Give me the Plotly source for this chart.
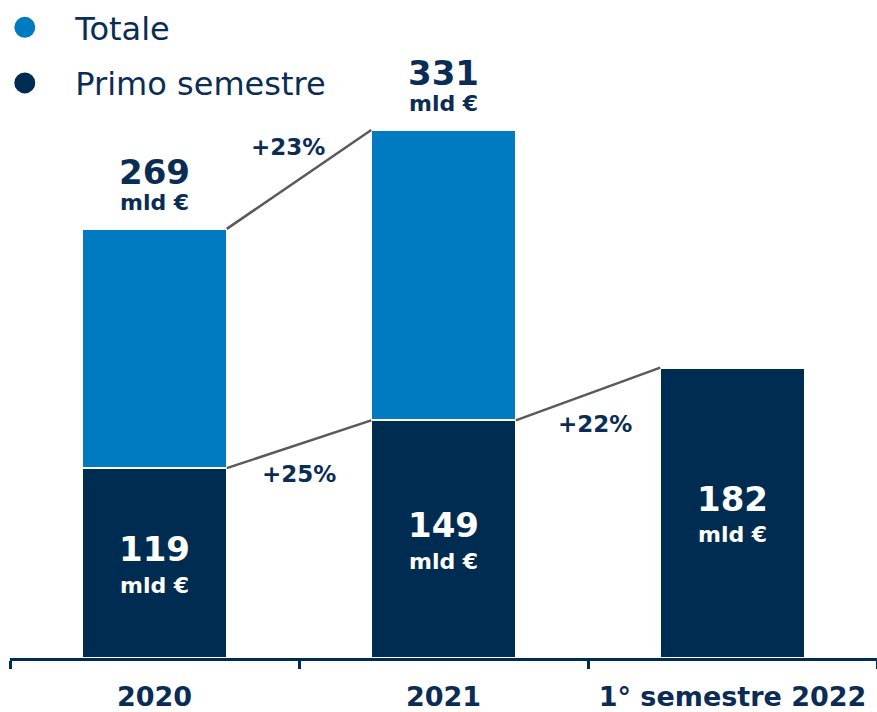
import plotly.graph_objects as go

categories = ["2020", "2021", "1° semestre 2022"]
totale = [269, 331, None]
primo = [119, 149, 182]
crescita_totale = "+23%"
crescita_primo = ["+25%", "+22%"]
unita = "mld €"

NAVY = "#002c52"
BLUE = "#007bc1"
TEXT = "#0b2d55"
GREY = "#5a5a5a"
FONT = "DejaVu Sans"
PAD = "\u00a0\u00a0\u00a0"  # spazio tra pallino e testo in legenda

resto = [t - p if t is not None else None for t, p in zip(totale, primo)]

fig = go.Figure()
fig.add_trace(go.Bar(
    x=categories, y=primo, marker=dict(color=NAVY, line=dict(color="white", width=2)),
    showlegend=False, hoverinfo="skip",
))
fig.add_trace(go.Bar(
    x=categories, y=resto, marker=dict(color=BLUE, line=dict(color="white", width=2)),
    showlegend=False, hoverinfo="skip",
))
# voci di legenda con pallini (bordo dello stesso colore per ingrandirli)
fig.add_trace(go.Scatter(x=[None], y=[None], mode="markers", name=PAD + "Totale", legendgroup="a",
                         marker=dict(color=BLUE, size=16, line=dict(color=BLUE, width=5))))
fig.add_trace(go.Scatter(x=[None], y=[None], mode="markers", name=PAD + "Primo semestre", legendgroup="b",
                         marker=dict(color=NAVY, size=16, line=dict(color=NAVY, width=5))))

half = 0.25  # mezza larghezza barra (bargap 0.5)

# linee di collegamento
def connector(i, y0, y1):
    fig.add_shape(type="line", xref="x", yref="y",
                  x0=i + half, y0=y0, x1=i + 1 - half, y1=y1,
                  line=dict(color=GREY, width=2.5))

connector(0, totale[0], totale[1])
connector(0, primo[0], primo[1])
connector(1, primo[1], primo[2])

# etichette sopra le barre (totale)
for i, t in enumerate(totale):
    if t is None:
        continue
    fig.add_annotation(x=i, y=t, text=f"<b>{unita}</b>", showarrow=False,
                       yanchor="bottom", yshift=12, font=dict(family=FONT, size=22, color=TEXT))
    fig.add_annotation(x=i, y=t, text=f"<b>{t}</b>", showarrow=False,
                       yanchor="bottom", yshift=35, font=dict(family=FONT, size=34, color=TEXT))

# etichette dentro le barre (primo semestre)
for i, p in enumerate(primo):
    fig.add_annotation(x=i, y=p / 2, text=f"<b>{p}</b>", showarrow=False,
                       yshift=14, font=dict(family=FONT, size=34, color="white"))
    fig.add_annotation(x=i, y=p / 2, text=f"<b>{unita}</b>", showarrow=False,
                       yshift=-22, font=dict(family=FONT, size=22, color="white"))

# percentuali di crescita
fig.add_annotation(x=0.5, y=(totale[0] + totale[1]) / 2, text=f"<b>{crescita_totale}</b>",
                   showarrow=False, xshift=-11, yshift=32,
                   font=dict(family=FONT, size=23, color=TEXT))
for i, lab in enumerate(crescita_primo):
    fig.add_annotation(x=i + 0.5, y=(primo[i] + primo[i + 1]) / 2, text=f"<b>{lab}</b>",
                       showarrow=False, xshift=0 if i == 0 else 7, yshift=-30,
                       font=dict(family=FONT, size=23, color=TEXT))

fig.update_layout(
    barmode="stack", bargap=0.5,
    width=877, height=712,
    margin=dict(l=10, r=0, t=0, b=54),
    plot_bgcolor="white", paper_bgcolor="white",
    font=dict(family=FONT, color=TEXT),
    legend=dict(x=-0.006, y=1, xanchor="left", yanchor="top",
                font=dict(family=FONT, size=32, color=TEXT),
                itemwidth=30, tracegroupgap=11, bgcolor="rgba(0,0,0,0)"),
)
fig.update_xaxes(
    type="category", showline=True, linecolor=NAVY, linewidth=3,
    ticks="outside", tickson="boundaries", ticklen=8, tickwidth=3, tickcolor=NAVY,
    tickfont=dict(family=FONT, size=27, color=TEXT, weight="bold"), ticklabelstandoff=13,
    showgrid=False, zeroline=False, automargin=False,
)
fig.update_yaxes(range=[0, 412.5], visible=False, showgrid=False, zeroline=False)

fig.write_html("out.html", config={"displayModeBar": False},
               post_script="document.body.style.margin='0';")
